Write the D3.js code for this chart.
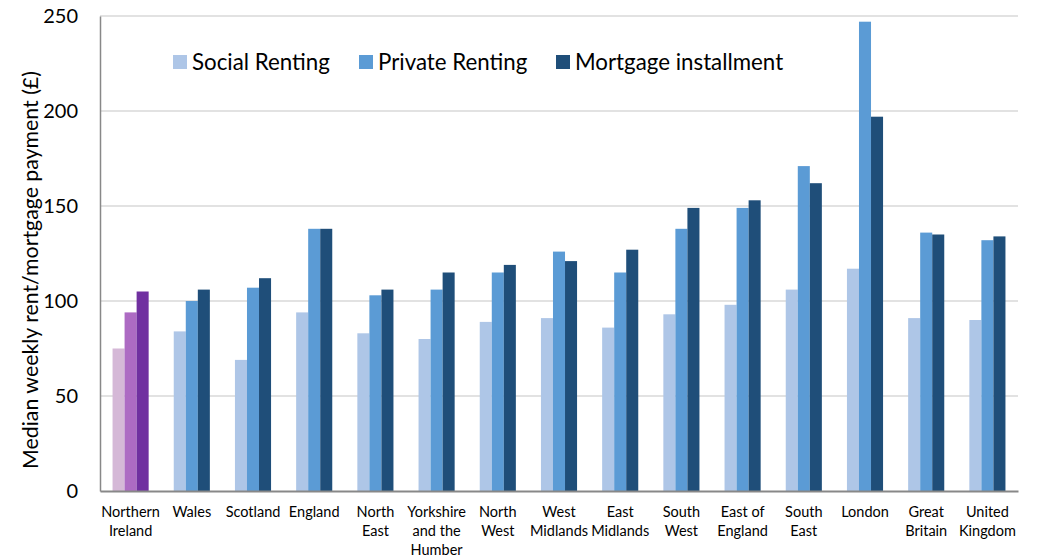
<!DOCTYPE html>
<html><head><meta charset="utf-8">
<script src="https://cdn.jsdelivr.net/npm/d3@7"></script>
<style>body{margin:0;background:#fff}svg{display:block}</style>
</head><body><svg id="c" width="1038" height="560"></svg>
<script>
const categories = [["Northern","Ireland"],["Wales"],["Scotland"],["England"],["North","East"],["Yorkshire","and the","Humber"],["North","West"],["West","Midlands"],["East","Midlands"],["South","West"],["East of","England"],["South","East"],["London"],["Great","Britain"],["United","Kingdom"]];
const seriesNames = ["Social Renting","Private Renting","Mortgage installment"];
const socialRenting = [75,84,69,94,83,80,89,91,86,93,98,106,117,91,90];
const privateRenting = [94,100,107,138,103,106,115,126,115,138,149,171,247,136,132];
const mortgageInstallment = [105,106,112,138,106,115,119,121,127,149,153,162,197,135,134];
const yTicks = [0,50,100,150,200,250];
const seriesColors = ["#aec6e7","#5b9bd5","#1f4e79"];
const niColors = ["#d5b8d7","#ad6bc3","#7030a0"];

const svg = d3.select("#c");
const font = "Lato, 'Open Sans', sans-serif";
const x0 = 100, x1 = 1018, yTop = 16, yBot = 491;
const keys = categories.map((c,i)=>i);
const x = d3.scaleBand().domain(keys).range([x0,x1]).paddingInner(0.41).paddingOuter(0.205);
const xs = d3.scaleBand().domain([0,1,2]).range([0,x.bandwidth()]);
const y = d3.scaleLinear().domain([0,250]).range([yBot,yTop]);

// gridlines
svg.append("g").selectAll("line").data(yTicks.filter(t=>t>0)).join("line")
  .attr("x1",x0).attr("x2",x1).attr("y1",d=>y(d)).attr("y2",d=>y(d))
  .attr("stroke","#d9d9d9").attr("stroke-width",1.3);

// y axis
const yAxis = d3.axisLeft(y).tickValues(yTicks).tickSize(0).tickPadding(22);
const gy = svg.append("g").attr("transform",`translate(${x0},0)`).call(yAxis);
gy.select(".domain").attr("stroke","#888").attr("stroke-width",1.5);
gy.selectAll("text").attr("font-family",font).attr("font-size",20).attr("fill","#000");

// bars
const data = [socialRenting, privateRenting, mortgageInstallment];
const g = svg.append("g");
keys.forEach(i=>{
  [0,1,2].forEach(s=>{
    const v = data[s][i];
    g.append("rect").attr("x",x(i)+xs(s)).attr("width",xs.bandwidth())
      .attr("y",y(v)).attr("height",y(0)-y(v))
      .attr("fill", i===0 ? niColors[s] : seriesColors[s]);
  });
});

// x axis
const xAxis = d3.axisBottom(x).tickSize(0).tickFormat("");
const gx = svg.append("g").attr("transform",`translate(0,${yBot})`).call(xAxis);
gx.select(".domain").attr("stroke","#888").attr("stroke-width",1.8);
gx.selectAll(".tick").each(function(d){
  const t = d3.select(this).append("text").attr("fill","#000").attr("font-family",font)
    .attr("font-size",14.5).attr("text-anchor","middle");
  categories[d].forEach((line,k)=>{
    t.append("tspan").attr("x",0).attr("y",26+k*19).text(line);
  });
});

// y label
svg.append("text").attr("transform","translate(38,270) rotate(-90)")
  .attr("text-anchor","middle").attr("font-family",font).attr("font-size",21.3)
  .text("Median weekly rent/mortgage payment (£)");

// legend
const legendX = [173,359,556];
const lg = svg.append("g");
seriesNames.forEach((n,i)=>{
  lg.append("rect").attr("x",legendX[i]).attr("y",55).attr("width",14).attr("height",14).attr("fill",seriesColors[i]);
  lg.append("text").attr("x",legendX[i]+19).attr("y",70).attr("font-family",font).attr("font-size",22.3).text(n);
});
</script></body></html>
